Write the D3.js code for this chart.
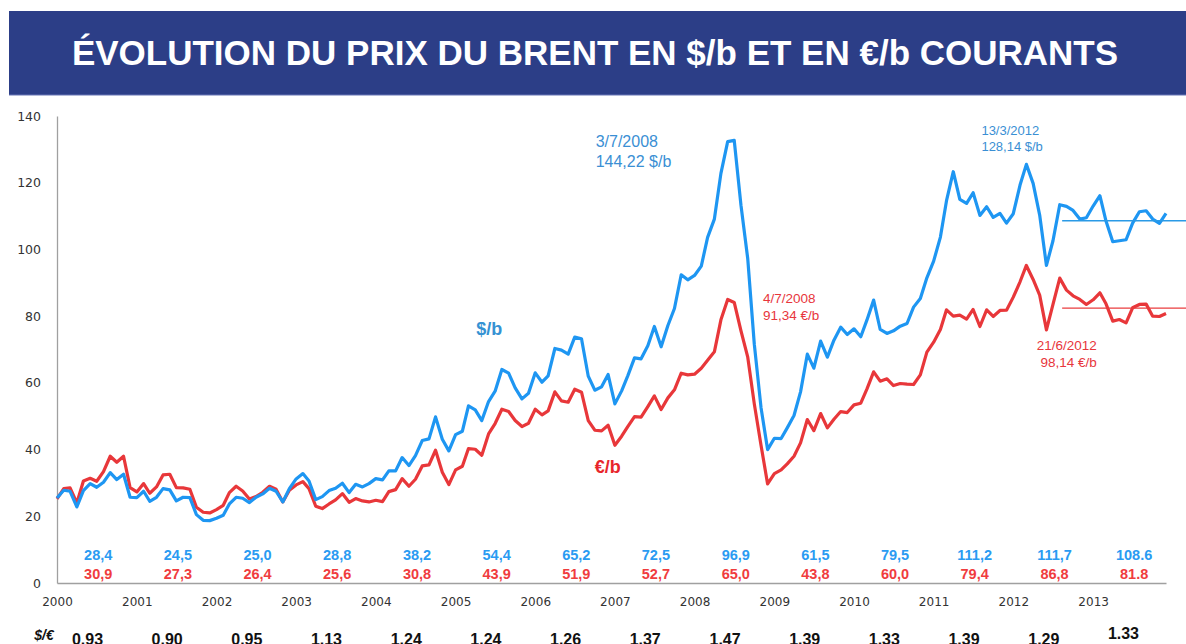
<!DOCTYPE html>
<html>
<head>
<meta charset="utf-8">
<script src="https://cdn.jsdelivr.net/npm/d3@7"></script>
<style>
  body { margin: 0; background: #fff; }
  svg { display: block; }
</style>
</head>
<body>
<svg id="chart" width="1186" height="644"></svg>
<script>
// Brent monthly averages, Jan 2000 -> Dec 2013
var years = [2000, 2001, 2002, 2003, 2004, 2005, 2006, 2007, 2008, 2009, 2010, 2011, 2012, 2013];

var brentUsd = [
    25.5, 27.8, 27.5, 22.8, 27.7, 29.8, 28.7, 30.2, 33.1, 31.0, 32.6, 25.7,
    25.6, 27.5, 24.5, 25.7, 28.3, 27.9, 24.6, 25.7, 25.6, 20.5, 18.8, 18.7,
    19.4, 20.3, 23.7, 25.7, 25.4, 24.1, 25.7, 26.7, 28.4, 27.5, 24.3, 28.3,
    31.2, 32.8, 30.6, 25.0, 25.9, 27.7, 28.4, 29.9, 27.1, 29.6, 28.8, 29.8,
    31.3, 30.9, 33.6, 33.6, 37.6, 35.2, 38.2, 42.7, 43.2, 49.8, 43.1, 39.6,
    44.5, 45.5, 53.1, 51.9, 48.7, 54.4, 57.5, 64.0, 62.9, 58.5, 55.2, 56.9,
    63.0, 60.2, 62.1, 70.3, 69.8, 68.6, 73.7, 73.2, 62.0, 57.8, 58.8, 62.5,
    53.7, 57.6, 62.1, 67.5, 67.2, 71.1, 76.9, 70.8, 77.2, 82.3, 92.4, 90.9,
    92.2, 95.0, 103.6, 109.1, 122.8, 132.3, 132.7, 113.2, 97.2, 71.6, 52.5, 40.0,
    43.4, 43.3, 46.5, 50.2, 57.3, 68.6, 64.4, 72.5, 67.7, 72.8, 76.7, 74.5,
    76.2, 73.8, 78.8, 84.8, 76.0, 74.8, 75.6, 77.0, 77.8, 82.7, 85.3, 91.5,
    96.5, 103.7, 114.6, 123.3, 115.0, 113.8, 117.0, 110.2, 112.8, 109.6, 110.8, 107.9,
    110.7, 119.3, 125.5, 119.8, 110.3, 95.2, 102.6, 113.4, 112.9, 111.7, 109.1, 109.5,
    113.0, 116.1, 108.5, 102.3, 102.6, 102.9, 107.9, 111.3, 111.6, 109.1, 107.8, 110.8
];

var brentEur = [
    25.2, 28.3, 28.5, 24.0, 30.6, 31.4, 30.5, 33.4, 38.0, 36.2, 38.0, 28.6,
    27.3, 29.8, 26.9, 28.8, 32.4, 32.6, 28.6, 28.5, 28.1, 22.7, 21.2, 21.0,
    22.0, 23.3, 27.1, 29.0, 27.6, 25.2, 25.9, 27.2, 29.0, 28.1, 24.3, 27.8,
    29.4, 30.4, 28.3, 23.0, 22.3, 23.7, 24.9, 26.8, 24.2, 25.3, 24.6, 24.3,
    24.8, 24.4, 27.4, 28.0, 31.3, 29.0, 31.1, 35.1, 35.4, 39.8, 33.2, 29.5,
    33.9, 35.0, 40.3, 40.1, 38.3, 44.7, 47.8, 52.1, 51.4, 48.7, 46.9, 47.9,
    52.1, 50.4, 51.6, 57.3, 54.6, 54.2, 58.1, 57.2, 48.7, 45.8, 45.6, 47.3,
    41.3, 44.0, 46.9, 49.9, 49.7, 52.9, 56.1, 52.0, 55.5, 57.9, 62.9, 62.4,
    62.6, 64.4, 66.8, 69.3, 78.9, 85.0, 84.1, 75.6, 67.7, 53.7, 41.2, 29.7,
    32.8, 33.9, 35.7, 38.0, 42.0, 49.0, 45.7, 50.8, 46.5, 49.1, 51.4, 51.1,
    53.4, 53.9, 58.1, 63.3, 60.5, 61.2, 59.2, 59.8, 59.6, 59.5, 62.4, 69.2,
    72.2, 76.0, 81.9, 80.0, 80.3, 79.1, 82.0, 76.9, 81.9, 79.9, 81.7, 81.8,
    85.7, 90.3, 95.2, 91.0, 86.3, 75.9, 83.5, 91.4, 87.8, 86.1, 85.0, 83.5,
    84.9, 87.0, 83.7, 78.5, 79.0, 78.0, 82.5, 83.5, 83.6, 80.0, 79.9, 80.8
];

// yearly averages printed above the axis
var avgUsd = ["28,4", "24,5", "25,0", "28,8", "38,2", "54,4", "65,2", "72,5", "96,9", "61,5", "79,5", "111,2", "111,7", "108.6"];
var avgEur = ["30,9", "27,3", "26,4", "25,6", "30,8", "43,9", "51,9", "52,7", "65,0", "43,8", "60,0", "79,4", "86,8", "81.8"];
var fxRate = ["0.93", "0.90", "0.95", "1.13", "1.24", "1.24", "1.26", "1.37", "1.47", "1.39", "1.33", "1.39", "1.29", "1.33"];

// 2013 average levels (horizontal lines)
var avg2013 = [108.6, 82.4];

var yTicks = [0, 20, 40, 60, 80, 100, 120, 140];

var BLUE = "#1e96f2", RED = "#e8373a";

var width = 1186, height = 644;
var svg = d3.select("#chart");

// title banner
svg.append("rect")
    .attr("x", 9).attr("y", 11)
    .attr("width", width - 9).attr("height", 84)
    .attr("fill", "#2c3e87");
svg.append("line")
    .attr("x1", 9).attr("x2", width)
    .attr("y1", 95).attr("y2", 95)
    .attr("stroke", "#6675b5").attr("stroke-width", 1);
svg.append("text")
    .attr("x", 595).attr("y", 65)
    .attr("text-anchor", "middle")
    .style("font", "bold 35px 'Liberation Sans', Arial, sans-serif")
    .attr("fill", "#fff")
    .text("ÉVOLUTION DU PRIX DU BRENT EN $/b ET EN €/b COURANTS");

var months = d3.timeMonth.range(new Date(2000, 0, 1), new Date(2014, 0, 1));

var x = d3.scaleTime()
    .domain([new Date(2000, 0, 1), new Date(2013, 11, 1)])
    .range([57, 1166]);

var y = d3.scaleLinear()
    .domain([0, 140])
    .range([583, 116]);

// y axis
var yAxis = svg.append("g")
    .attr("transform", "translate(57,0)")
    .call(d3.axisLeft(y).tickValues(yTicks).tickSize(0).tickPadding(16));
yAxis.select(".domain").attr("stroke", "#a0a0a0").attr("stroke-width", 1.3);
yAxis.selectAll("text")
    .style("font", "12.5px 'DejaVu Sans', Verdana, sans-serif")
    .attr("fill", "#333");

// x axis
var xAxis = svg.append("g")
    .attr("transform", "translate(0,583)")
    .call(d3.axisBottom(x)
        .tickValues(years.map(function (yr) { return new Date(yr, 0, 1); }))
        .tickSize(0)
        .tickFormat(d3.timeFormat("%Y")));
xAxis.select(".domain").attr("stroke", "#a0a0a0").attr("stroke-width", 1.3);
xAxis.selectAll("text")
    .attr("y", 23).attr("dy", 0)
    .style("font", "12px 'DejaVu Sans', Verdana, sans-serif")
    .attr("fill", "#333");

// series
var line = d3.line()
    .x(function (d, i) { return x(months[i]); })
    .y(function (d) { return y(d); });

svg.append("path")
    .datum(brentEur)
    .attr("d", line)
    .attr("fill", "none")
    .attr("stroke", RED)
    .attr("stroke-width", 3.2)
    .attr("stroke-linejoin", "round");

svg.append("path")
    .datum(brentUsd)
    .attr("d", line)
    .attr("fill", "none")
    .attr("stroke", BLUE)
    .attr("stroke-width", 3.2)
    .attr("stroke-linejoin", "round");

// 2013 average lines
svg.selectAll(".avgline")
    .data(avg2013)
    .enter().append("line")
    .attr("class", "avgline")
    .attr("x1", x(new Date(2012, 7, 12)))
    .attr("x2", width)
    .attr("y1", function (d) { return y(d); })
    .attr("y2", function (d) { return y(d); })
    .attr("stroke", function (d, i) { return i == 0 ? "#2a9ae6" : "#ea3c3e"; })
    .attr("stroke-width", 1.3);

// yearly averages
var labelFont = "bold 14.5px 'Liberation Sans', Arial, sans-serif";
svg.selectAll(".avgUsd")
    .data(avgUsd)
    .enter().append("text")
    .attr("class", "avgUsd")
    .attr("x", function (d, i) { return x(new Date(years[i], 6, 8)); })
    .attr("y", 560)
    .attr("text-anchor", "middle")
    .style("font", labelFont)
    .attr("fill", "#2a9bf2")
    .text(function (d) { return d; });

svg.selectAll(".avgEur")
    .data(avgEur)
    .enter().append("text")
    .attr("class", "avgEur")
    .attr("x", function (d, i) { return x(new Date(years[i], 6, 8)); })
    .attr("y", 579)
    .attr("text-anchor", "middle")
    .style("font", labelFont)
    .attr("fill", "#f03c3e")
    .text(function (d) { return d; });

// exchange rate row (cut by the bottom edge, as in the source slide)
svg.append("text")
    .attr("x", 44).attr("y", 640)
    .attr("text-anchor", "middle")
    .style("font", "italic bold 14px 'Liberation Sans', Arial, sans-serif")
    .attr("fill", "#111")
    .text("$/€");

svg.selectAll(".fx")
    .data(fxRate)
    .enter().append("text")
    .attr("class", "fx")
    .attr("x", function (d, i) { return x(new Date(years[i], 4, 20)); })
    .attr("y", function (d, i) { return i == fxRate.length - 1 ? 639 : 645; })
    .attr("text-anchor", "middle")
    .style("font", "bold 16px 'Liberation Sans', Arial, sans-serif")
    .attr("fill", "#111")
    .text(function (d) { return d; });

// series names
svg.append("text")
    .attr("x", x(new Date(2005, 3, 6))).attr("y", y(74.3))
    .style("font", "bold 18px 'Liberation Sans', Arial, sans-serif")
    .attr("fill", "#3592d3")
    .text("$/b");

svg.append("text")
    .attr("x", x(new Date(2006, 9, 1))).attr("y", y(33.1))
    .style("font", "bold 18px 'Liberation Sans', Arial, sans-serif")
    .attr("fill", "#e8262c")
    .text("€/b");

// annotations
function note(lines, date, value, gap, size, color, anchor) {
    var t = svg.append("text")
        .attr("x", x(date)).attr("y", y(value))
        .attr("text-anchor", anchor || "start")
        .style("font", size + "px 'Liberation Sans', Arial, sans-serif")
        .attr("fill", color);
    lines.forEach(function (s, i) {
        t.append("tspan")
            .attr("x", x(date))
            .attr("dy", i == 0 ? 0 : gap)
            .text(s);
    });
}

note(["3/7/2008", "144,22 $/b"], new Date(2006, 9, 5), 130.8, 20, 16, "#3a8fd4");
note(["4/7/2008", "91,34 €/b"], new Date(2008, 10, 10), 84.0, 17.5, 13.5, "#e8363c");
note(["13/3/2012", "128,14 $/b"], new Date(2011, 7, 8), 134.3, 15.7, 13, "#3a8fd4");
note(["21/6/2012", "98,14 €/b"], new Date(2013, 0, 18), 69.9, 16.7, 13.5, "#e8363c", "end");
</script>
</body>
</html>
